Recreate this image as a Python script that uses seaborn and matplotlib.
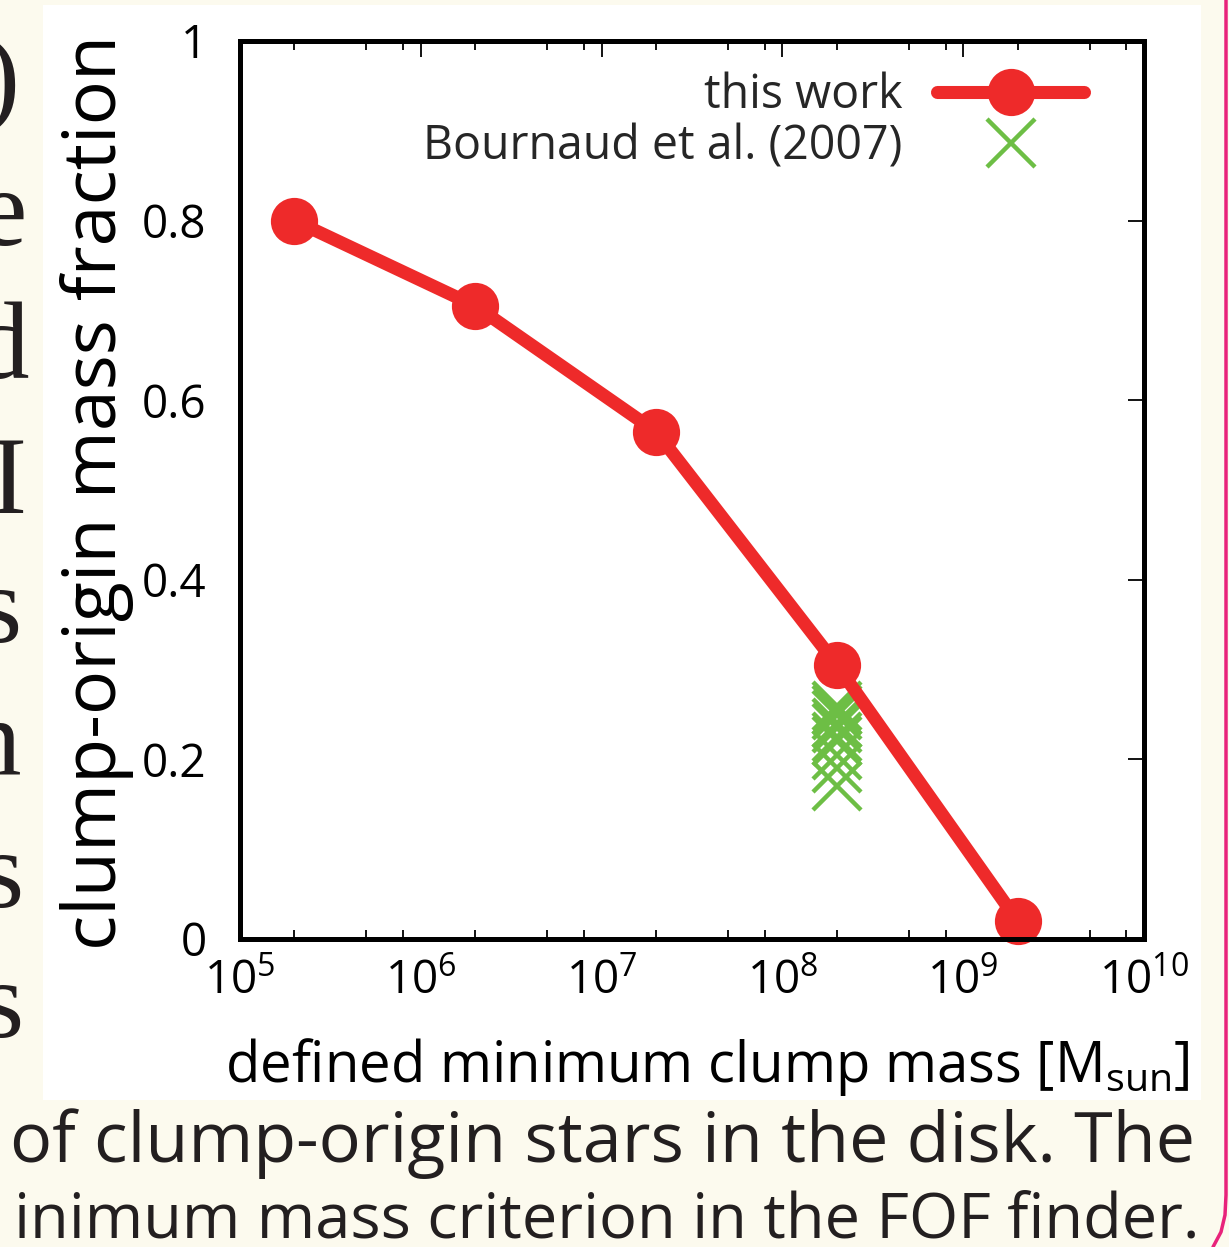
import matplotlib
matplotlib.use("Agg")
import matplotlib.pyplot as plt
import matplotlib.ticker as mticker
from matplotlib.patches import Rectangle
from matplotlib.lines import Line2D
import seaborn as sns
import pandas as pd

# ---- data ----
min_clump_mass = [2e5, 2e6, 2e7, 2e8, 2e9]
clump_fraction = [0.80, 0.705, 0.565, 0.305, 0.02]
bournaud_mass = [2e8] * 10
bournaud_fraction = [0.26, 0.255, 0.25, 0.24, 0.235, 0.225, 0.22, 0.205, 0.19, 0.17]
y_ticks = [0, 0.2, 0.4, 0.6, 0.8, 1.0]
y_tick_labels = ["0", "0.2", "0.4", "0.6", "0.8", "1"]
series_names = ["this work", "Bournaud et al. (2007)"]
x_label = r"defined minimum clump mass [$\mathrm{M}_{\mathrm{sun}}$]"
y_label = "clump-origin mass fraction"
caption_lines = ["of clump-origin stars in the disk. The",
                 "inimum mass criterion in the FOF finder."]
side_letters = [")", "e", "d", "I", "s", "n", "s", "s"]

sns.set_theme(style="white")
FONT = "Open Sans"
plt.rcParams["font.family"] = [FONT, "DejaVu Sans"]
plt.rcParams["mathtext.fontset"] = "custom"
plt.rcParams["mathtext.rm"] = FONT
plt.rcParams["mathtext.it"] = FONT + ":italic"
plt.rcParams["mathtext.bf"] = FONT + ":bold"

W, H = 1229, 1247
fig = plt.figure(figsize=(W / 100, H / 100), dpi=100, facecolor="#FCFAEE")

def fx(px):
    return px / W

def fy(py):
    return 1 - py / H

# page background: white panel
fig.patches.append(Rectangle((fx(43), fy(1100)), fx(1201) - fx(43), fy(5) - fy(1100),
                             transform=fig.transFigure, facecolor="white",
                             edgecolor="none", zorder=-0.5))
# pink margin line
fig.lines.append(Line2D([fx(1226), fx(1226), fx(1225), fx(1221), fx(1213)],
                        [fy(0), fy(1195), fy(1215), fy(1232), fy(1247)],
                        transform=fig.transFigure, color="#E8237B", lw=2.5, zorder=1))
# truncated serif letters on the left (ends of justified text lines)
baselines = [113, 245, 378, 513, 642, 775, 907, 1037]
right_edges = [19, 27, 29, 27, 22, 21, 24, 24]
for ch, b, r in zip(side_letters, baselines, right_edges):
    fig.text(fx(r), fy(b), ch, ha="right", va="baseline", fontsize=80,
             family=["Liberation Serif", "DejaVu Serif"], color="#231F20", zorder=-1)
# caption
fig.text(fx(10), fy(1162), caption_lines[0], ha="left", va="baseline", fontsize=50.5,
         color="#231F20")
fig.text(fx(14), fy(1238), caption_lines[1], ha="left", va="baseline", fontsize=45.5,
         color="#231F20")

ax = fig.add_axes([fx(240), fy(939), fx(1144) - fx(240), fy(41) - fy(939)])
ax.set_zorder(2)
ax.set_facecolor("white")

df = pd.DataFrame({"mass": min_clump_mass, "frac": clump_fraction})
dfb = pd.DataFrame({"mass": bournaud_mass, "frac": bournaud_fraction})

red = "#EE2A2A"
green = "#6DBE45"
sns.lineplot(data=df, x="mass", y="frac", ax=ax, color=red, lw=9.4, marker="o",
             markersize=34, markeredgewidth=0, markeredgecolor=red,
             label=series_names[0], clip_on=False, zorder=3)
sns.lineplot(data=dfb, x="mass", y="frac", ax=ax, color=green, linestyle="",
             marker="x", markersize=34, markeredgewidth=3.2, markeredgecolor=green,
             label=series_names[1], estimator=None, sort=False, zorder=2)

ax.set_xscale("log")
ax.set_xlim(1e5, 1e10)
ax.set_ylim(0, 1)
ax.xaxis.set_major_locator(mticker.LogLocator(base=10, numticks=20))
ax.xaxis.set_minor_locator(mticker.LogLocator(base=10, subs=[2, 5, 8], numticks=20))
ax.xaxis.set_minor_formatter(mticker.NullFormatter())
ax.set_yticks(y_ticks)
ax.set_yticklabels(y_tick_labels)

for s in ax.spines.values():
    s.set_linewidth(3.6)
    s.set_color("black")
    s.set_zorder(5)

ax.tick_params(axis="both", which="major", direction="in", length=11.5, width=1.3,
               color="black", top=True, right=True, labelsize=33, labelcolor="black")
ax.tick_params(axis="x", which="major", pad=14)
ax.tick_params(axis="y", which="major", pad=24)
ax.tick_params(axis="x", which="minor", direction="in", length=6.5, width=1.3,
               color="black", top=True, bottom=True)

ax.set_xlabel(x_label, fontsize=40.5, color="black")
ax.xaxis.set_label_coords((707 - 240) / 904, -0.108)
ax.set_ylabel(y_label, fontsize=53, color="black")
ax.yaxis.set_label_coords((134 - 240) / 904, (939 - 492) / 898)

leg = ax.legend(loc="upper right", bbox_to_anchor=((1084 - 240) / 904, (939 - 72) / 898),
                frameon=False, markerfirst=False, fontsize=33.5, handlelength=3.15,
                handletextpad=0.75, borderpad=0, borderaxespad=0, labelspacing=0.07)

fig.savefig("out.png", dpi=100, facecolor=fig.get_facecolor())
